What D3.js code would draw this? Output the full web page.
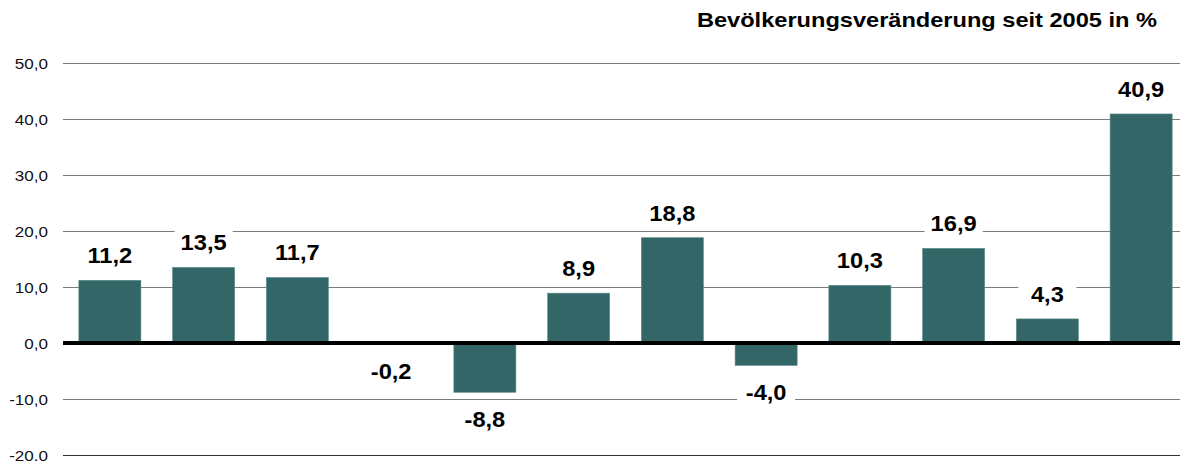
<!DOCTYPE html>
<html>
<head>
<meta charset="utf-8">
<script src="https://cdn.jsdelivr.net/npm/d3@7"></script>
<style>
body { margin: 0; background: #fff; }
text { font-family: "Liberation Sans", Arial, sans-serif; }
</style>
</head>
<body>
<div id="chart"></div>
<script>
const categories = ["A", "B", "C", "D", "E", "F", "G", "H", "I", "J", "K", "L"];
const values = [11.2, 13.5, 11.7, -0.2, -8.8, 8.9, 18.8, -4.0, 10.3, 16.9, 4.3, 40.9];
const tickValues = [50, 40, 30, 20, 10, 0, -10, -20];
const tickLabels = ["50,0", "40,0", "30,0", "20,0", "10,0", "0,0", "-10,0", "-20.0"];
const title = "Bevölkerungsveränderung seit 2005 in %";

const width = 1180, height = 461;
const margin = { top: 63, bottom: 6, left: 63, right: -8 };
const sx = 1.1; // text in the picture is a little wider than Arial

const fmt = v => v.toFixed(1).replace(".", ",");

const svg = d3.select("#chart")
  .append("svg")
  .attr("width", width)
  .attr("height", height);

const x = d3.scaleBand()
  .domain(categories)
  .range([margin.left, width - margin.right])
  .paddingInner(0.338)
  .paddingOuter(0.169);

const y = d3.scaleLinear()
  .domain([-20, 50])
  .range([height - margin.bottom, margin.top]);

// title
svg.append("g")
  .attr("transform", `translate(1157,27) scale(1.18,1)`)
  .append("text")
  .attr("text-anchor", "end")
  .style("font-weight", "bold")
  .style("font-size", "20px")
  .attr("fill", "#000")
  .text(title);

// grid lines
svg.append("g")
  .selectAll("line")
  .data(tickValues.filter(d => d !== 0))
  .join("line")
  .attr("x1", margin.left)
  .attr("x2", width)
  .attr("y1", d => Math.round(y(d)) + 0.5)
  .attr("y2", d => Math.round(y(d)) + 0.5)
  .attr("stroke", d => d === -20 ? "#333" : "#7a7a7a")
  .attr("stroke-width", 1);

// tick labels
svg.append("g")
  .selectAll("g")
  .data(tickValues)
  .join("g")
  .attr("transform", (d) => `translate(48,${y(d) + 5.5}) scale(${sx},1)`)
  .append("text")
  .attr("text-anchor", "end")
  .style("font-size", "15.5px")
  .attr("fill", "#111")
  .text((d, i) => tickLabels[i]);

// bars
svg.append("g")
  .selectAll("rect")
  .data(values)
  .join("rect")
  .attr("x", (d, i) => x(categories[i]))
  .attr("width", x.bandwidth())
  .attr("y", d => y(Math.max(0, d)))
  .attr("height", d => Math.abs(y(d) - y(0)))
  .attr("fill", "#336666")
  .attr("stroke", "#5f8b8b")
  .attr("stroke-width", 0.6);

// zero line
svg.append("line")
  .attr("x1", margin.left)
  .attr("x2", width)
  .attr("y1", y(0))
  .attr("y2", y(0))
  .attr("stroke", "#000")
  .attr("stroke-width", 4);

// value labels with white boxes
const lab = svg.append("g")
  .selectAll("g")
  .data(values)
  .join("g")
  .attr("transform", (d, i) => {
    const cx = x(categories[i]) + x.bandwidth() / 2;
    const base = d >= 0 ? y(d) - 17 : y(d) + 35;
    return `translate(${cx},${base})`;
  });

lab.append("rect")
  .attr("x", -x.bandwidth() / 2 + 2)
  .attr("width", x.bandwidth() - 4)
  .attr("y", -21)
  .attr("height", 27)
  .attr("fill", "#fff");

lab.append("text")
  .attr("transform", `scale(${sx},1)`)
  .attr("text-anchor", "middle")
  .style("font-weight", "bold")
  .style("font-size", "21.5px")
  .attr("fill", "#000")
  .text(d => fmt(d));
</script>
</body>
</html>
